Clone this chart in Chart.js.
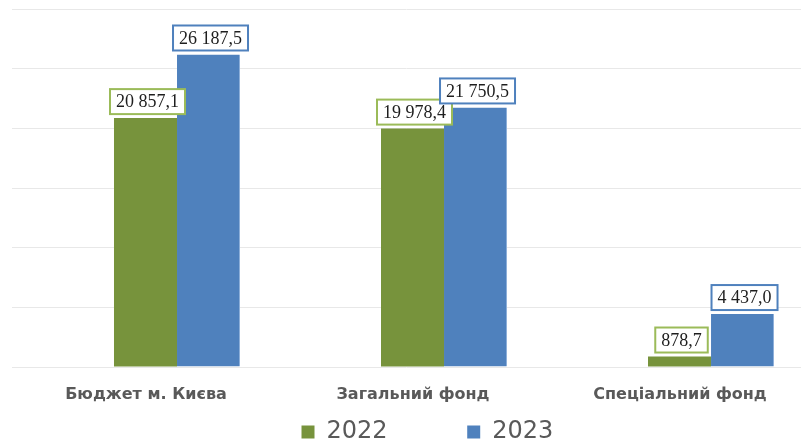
<!DOCTYPE html>
<html>
<head>
<meta charset="utf-8">
<script src="https://cdn.jsdelivr.net/npm/chart.js@4.4.0/dist/chart.umd.min.js"></script>
<style>
    html, body {margin: 0; padding: 0; background: #fff; overflow: hidden;}
    #wrap {width: 801px; height: 441px; position: relative;}
</style>
</head>
<body>
<div id="wrap"><canvas id="chart"></canvas></div>
<script>
const categories = ['Бюджет м. Києва', 'Загальний фонд', 'Спеціальний фонд'];
const seriesNames = ['2022', '2023'];
const values2022 = [20857.1, 19978.4, 878.7];
const values2023 = [26187.5, 21750.5, 4437.0];
const yTicks = [0, 5000, 10000, 15000, 20000, 25000, 30000];

const GREEN = '#77933c';
const BLUE = '#4f81bd';

function fmt(v) {
    const parts = v.toFixed(1).split('.');
    return parts[0].replace(/\B(?=(\d{3})+(?!\d))/g, ' ') + ',' + parts[1];
}

// boxed value labels above the bars
const valueBoxes = {
    id: 'valueBoxes',
    afterDatasetsDraw(chart) {
        const ctx = chart.ctx;
        ctx.save();
        ctx.font = '18px "Liberation Serif", "Times New Roman", serif';
        ctx.textAlign = 'center';
        ctx.textBaseline = 'middle';
        chart.data.datasets.forEach((ds, di) => {
            const meta = chart.getDatasetMeta(di);
            meta.data.forEach((bar, i) => {
                const text = fmt(ds.data[i].y);
                const w = ctx.measureText(text).width + 12;
                const h = 25;
                const x = bar.x - w / 2 + 2;
                const y = bar.y - 4 - h;
                ctx.fillStyle = '#fff';
                ctx.fillRect(x, y, w, h);
                ctx.lineWidth = 2;
                ctx.strokeStyle = ds.labelBorder;
                ctx.strokeRect(x, y, w, h);
                ctx.fillStyle = '#1e1e1e';
                ctx.fillText(text, x + w / 2, y + h / 2 + 1);
            });
        });
        ctx.restore();
    }
};

const ctx = document.getElementById('chart');
new Chart(ctx, {
    type: 'bar',
    data: {
        datasets: [{
            label: seriesNames[0],
            data: values2022.map((v, i) => ({x: i, y: v})),
            backgroundColor: GREEN,
            labelBorder: '#9bbb59',
            borderWidth: 0,
        }, {
            label: seriesNames[1],
            data: values2023.map((v, i) => ({x: i, y: v})),
            backgroundColor: BLUE,
            labelBorder: '#4f81bd',
            borderColor: '#8fb0da',
            borderWidth: {right: 1, top: 0, left: 0, bottom: 0},
        }],
    },
    options: {
        responsive: true,
        maintainAspectRatio: false,
        animation: false,
        layout: {
            padding: {left: 12, right: 0, top: 9, bottom: 0}
        },
        datasets: {
            bar: {
                categoryPercentage: 0.472,
                barPercentage: 1,
            }
        },
        plugins: {
            tooltip: {enabled: false},
            legend: {
                display: true,
                position: 'bottom',
                align: 'center',
                maxHeight: 21,
                labels: {
                    boxWidth: 13,
                    boxHeight: 13,
                    padding: 0,
                    color: '#595959',
                    font: {family: '"DejaVu Sans"', size: 24},
                    generateLabels(chart) {
                        // empty leading item only nudges the row to the right
                        const items = [{
                            text: '\u2002\u2009',
                            fillStyle: 'rgba(0,0,0,0)',
                            strokeStyle: 'rgba(0,0,0,0)',
                            lineWidth: 0,
                            hidden: false,
                            fontColor: '#595959',
                        }];
                        chart.data.datasets.forEach((ds, i) => items.push({
                            text: i === 0 ? ds.label + '\u2003\u2003\u2003 ' : ds.label,
                            fillStyle: ds.backgroundColor,
                            strokeStyle: ds.backgroundColor,
                            lineWidth: 0,
                            hidden: false,
                            datasetIndex: i,
                            fontColor: '#595959',
                        }));
                        return items;
                    }
                },
            },
        },
        scales: {
            x: {
                type: 'linear',
                min: -0.618,
                max: 2.337,
                offset: false,
                grid: {display: false},
                border: {display: false},
                afterBuildTicks(scale) {
                    scale.ticks = categories.map((c, i) => ({value: i}));
                },
                afterFit(scale) {
                    scale.height = 53;
                    scale.paddingLeft = 0;
                    scale.paddingRight = 0;
                },
                ticks: {
                    labelOffset: -31,
                    padding: 10,
                    color: '#595959',
                    font: {family: '"DejaVu Sans"', size: 16, weight: 'bold'},
                    maxRotation: 0,
                    autoSkip: false,
                    callback: (v) => categories[v],
                },
            },
            y: {
                min: yTicks[0],
                max: yTicks[yTicks.length - 1],
                afterBuildTicks(scale) {
                    scale.ticks = yTicks.map(v => ({value: v}));
                },
                grid: {color: '#e8e8e8', lineWidth: 1, drawTicks: false},
                border: {display: false},
                ticks: {display: false},
            }
        }
    },
    plugins: [valueBoxes],
});
</script>
</body>
</html>
